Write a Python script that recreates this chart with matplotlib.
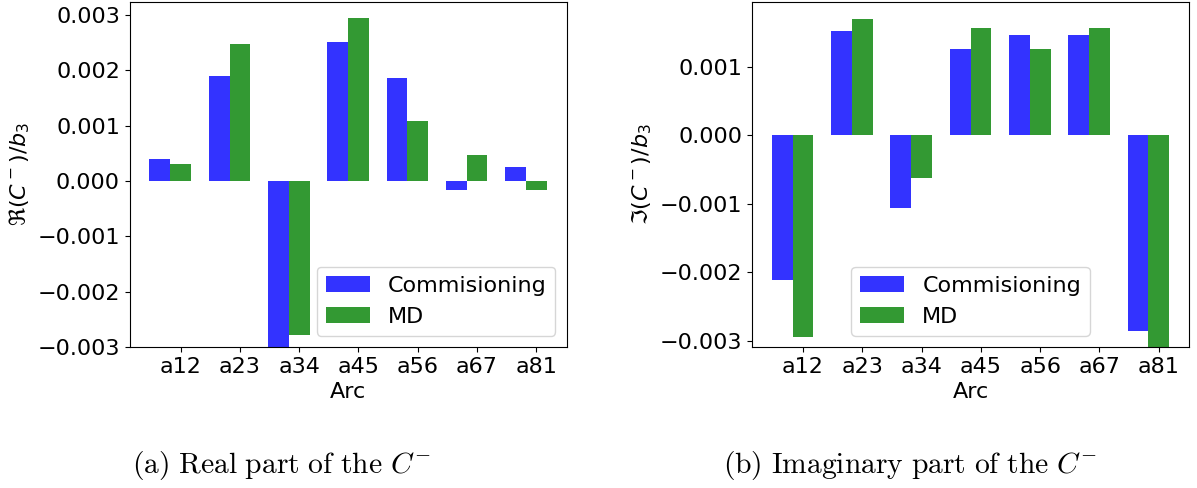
import numpy as np
import matplotlib
matplotlib.use('Agg')
import matplotlib.pyplot as plt

plt.rcParams['mathtext.fontset'] = 'dejavusans'

arcs = ['a12', 'a23', 'a34', 'a45', 'a56', 'a67', 'a81']

# real part of C^- / b3
re_comm = [0.00040, 0.00190, -0.00320, 0.00251, 0.00186, -0.00016, 0.00026]
re_md = [0.00031, 0.00247, -0.00279, 0.00294, 0.00109, 0.00047, -0.00016]

# imaginary part of C^- / b3
im_comm = [-0.00211, 0.00152, -0.00106, 0.00125, 0.00146, 0.00146, -0.00285]
im_md = [-0.00294, 0.00170, -0.00062, 0.00156, 0.00125, 0.00156, -0.00320]

bar_width = 0.35
index = np.arange(len(arcs))

fig = plt.figure(figsize=(11.97, 4.88), dpi=100)
ax1 = fig.add_axes([0.1083, 0.2889, 0.365, 0.708])
ax2 = fig.add_axes([0.6283, 0.2889, 0.365, 0.708])


def draw(ax, comm, md, ylab, ylim, legend_loc):
    ax.bar(index, comm, bar_width, color='b', alpha=0.8, label='Commisioning')
    ax.bar(index + bar_width, md, bar_width, color='g', alpha=0.8, label='MD')
    ax.set_xticks(index + bar_width)
    ax.set_xticklabels(arcs)
    ax.set_xlabel('Arc', fontsize=16)
    ax.set_ylabel(ylab, fontsize=16)
    ax.tick_params(labelsize=16)
    ax.set_ylim(*ylim)
    ax.legend(loc=legend_loc, fontsize=16)


draw(ax1, re_comm, re_md, r'$\Re(C^-)/b_3$', (-0.003, 0.00324), 'lower right')
ax1.set_yticks([-0.003, -0.002, -0.001, 0.0, 0.001, 0.002, 0.003])
draw(ax2, im_comm, im_md, r'$\Im(C^-)/b_3$', (-0.00309, 0.00195), 'lower center')
ax2.set_yticks([-0.003, -0.002, -0.001, 0.0, 0.001])

cap = dict(fontsize=21.3, ha='center', va='baseline', math_fontfamily='cm')
fig.text(0.2352, 0.0307, r'$\mathrm{(a)\ Real\ part\ of\ the\ }C^{-}$', **cap)
fig.text(0.7600, 0.0307, r'$\mathrm{(b)\ Imaginary\ part\ of\ the\ }C^{-}$', **cap)

fig.savefig('out.png', dpi=100)
